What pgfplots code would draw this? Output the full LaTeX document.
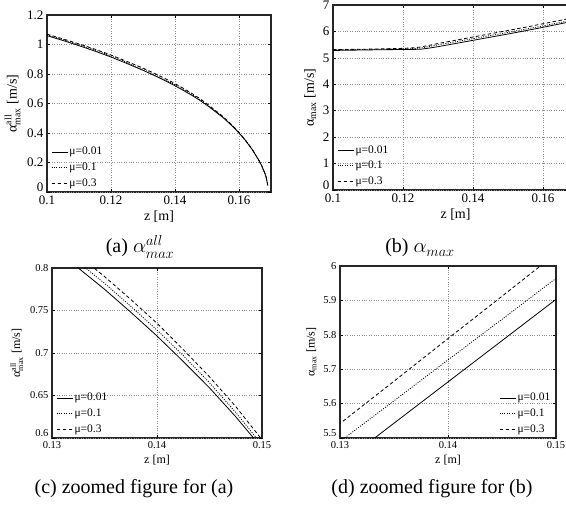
\documentclass[border=0pt]{standalone}
\usepackage{fontspec}
\setmainfont{Liberation Serif}
\usepackage{amsmath}
\usepackage{pgfplots}
\usepackage{pgfplotstable}
\pgfplotsset{compat=1.18}

% alpha_max^all against z, for mu = 0.01, 0.1, 0.3
\pgfplotstableread{
z      a      b      c
0.100  1.060  1.066  1.070
0.105  1.027  1.033  1.038
0.110  0.992  0.999  1.004
0.115  0.955  0.962  0.968
0.120  0.915  0.922  0.929
0.125  0.871  0.878  0.885
0.130  0.825  0.832  0.840
0.1325 0.800  0.807  0.815
0.135  0.775  0.782  0.790
0.1375 0.748  0.755  0.763
0.140  0.720  0.727  0.735
0.1425 0.690  0.697  0.704
0.145  0.659  0.665  0.672
0.1475 0.625  0.630  0.637
0.150  0.588  0.592  0.598
0.155  0.505  0.508  0.512
0.158  0.445  0.447  0.450
0.160  0.400  0.402  0.404
0.162  0.350  0.351  0.352
0.164  0.292  0.293  0.294
0.166  0.222  0.223  0.223
0.167  0.182  0.183  0.183
0.168  0.132  0.132  0.132
0.1685 0.100  0.100  0.100
0.169  0.045  0.045  0.045
}\tabA

% alpha_max against z
\pgfplotstableread{
z      a      b      c
0.100  5.280  5.300  5.310
0.105  5.290  5.310  5.320
0.110  5.300  5.320  5.330
0.115  5.310  5.330  5.345
0.120  5.315  5.340  5.360
0.123  5.320  5.350  5.380
0.125  5.325  5.370  5.410
0.1275 5.370  5.430  5.475
0.130  5.423  5.490  5.542
0.135  5.543  5.608  5.665
0.140  5.663  5.727  5.789
0.145  5.783  5.845  5.912
0.150  5.903  5.964  6.036
0.155  6.027  6.085  6.160
0.160  6.155  6.210  6.290
0.165  6.290  6.340  6.420
0.170  6.430  6.470  6.560
}\tabB

\pgfplotsset{
  matlab/.style={
    scale only axis,
    axis line style={line width=1.1pt, black!85},
    grid=major,
    major grid style={dotted, line width=0.5pt, black!45},
    tick align=inside,
    major tick length=3pt,
    every tick/.style={black, line width=0.5pt},
    scaled ticks=false,
    /pgf/number format/assume math mode=true,
    extra y tick style={yticklabel style={yshift=5pt, inner ysep=0pt}},
    legend cell align=left,
    legend style={draw=none, fill=none, inner sep=1pt, row sep=3.5pt,
      font=\fontsize{11.5}{12}\selectfont, nodes={inner sep=1.5pt}},
    legend image code/.code={\draw[##1] (0pt,0pt) -- (16pt,0pt);},
    every axis plot/.append style={black, line width=0.8pt, no marks},
  },
  mu1/.style={solid},
  mu2/.style={dash pattern=on 1pt off 1.4pt},
  mu3/.style={dash pattern=on 3.5pt off 2.5pt},
}

\begin{document}
\begin{tikzpicture}
\path[use as bounding box] (0pt,0pt) rectangle (566pt,506pt);

% (a)
\begin{axis}[matlab,
  at={(47pt,314pt)}, anchor=south west,
  width=224pt, height=177pt,
  xmin=0.1, xmax=0.17, ymin=0, ymax=1.2,
  xtick={0.1,0.12,0.14,0.16},
  ytick={0.2,0.4,0.6,0.8,1,1.2},
  extra y ticks={0},
  ticklabel style={font=\fontsize{13}{13}\selectfont},
  label style={font=\fontsize{14}{15}\selectfont},
  xlabel={z [m]},
  ylabel={$\text{α}^{\text{all}}_{\text{max}}$ [m/s]},
  legend style={at={(0,0)}, anchor=south west, xshift=3pt, yshift=1.5pt},
]
\addplot[mu1] table[x=z, y=a] {\tabA};
\addplot[mu2] table[x=z, y=b] {\tabA};
\addplot[mu3] table[x=z, y=c] {\tabA};
\legend{μ=0.01, μ=0.1, μ=0.3}
\end{axis}

% (b)
\begin{axis}[matlab,
  at={(333pt,316pt)}, anchor=south west,
  width=245pt, height=185pt,
  xmin=0.1, xmax=0.17, ymin=0, ymax=7,
  xtick={0.1,0.12,0.14,0.16},
  ytick={1,2,...,7},
  extra y ticks={0},
  ticklabel style={font=\fontsize{13}{13}\selectfont},
  label style={font=\fontsize{14}{15}\selectfont},
  xlabel={z [m]},
  ylabel={$\text{α}_{\text{max}}$ [m/s]},
  legend style={at={(0,0)}, anchor=south west, xshift=3pt, yshift=1.5pt},
]
\addplot[mu1] table[x=z, y=a] {\tabB};
\addplot[mu2] table[x=z, y=b] {\tabB};
\addplot[mu3] table[x=z, y=c] {\tabB};
\legend{μ=0.01, μ=0.1, μ=0.3}
\end{axis}

% (c)
\begin{axis}[matlab,
  at={(52pt,68pt)}, anchor=south west,
  width=210pt, height=170pt,
  xmin=0.13, xmax=0.15, ymin=0.6, ymax=0.8,
  xtick={0.13,0.14,0.15},
  ytick={0.65,0.7,0.75,0.8},
  extra y ticks={0.6},
  ticklabel style={font=\fontsize{10.5}{10.5}\selectfont},
  label style={font=\fontsize{12}{13}\selectfont},
  xlabel={z [m]},
  ylabel={$\text{α}^{\text{all}}_{\text{max}}$ [m/s]},
  legend style={at={(0,0)}, anchor=south west, xshift=3pt, yshift=1.5pt},
]
\addplot[mu1] table[x=z, y=a] {\tabA};
\addplot[mu2] table[x=z, y=b] {\tabA};
\addplot[mu3] table[x=z, y=c] {\tabA};
\legend{μ=0.01, μ=0.1, μ=0.3}
\end{axis}

% (d)
\begin{axis}[matlab,
  at={(340pt,68pt)}, anchor=south west,
  width=216pt, height=172pt,
  xmin=0.13, xmax=0.15, ymin=5.5, ymax=6,
  xtick={0.13,0.14,0.15},
  ytick={5.6,5.7,5.8,5.9,6},
  extra y ticks={5.5},
  ticklabel style={font=\fontsize{10.5}{10.5}\selectfont},
  label style={font=\fontsize{12}{13}\selectfont},
  xlabel={z [m]},
  ylabel={$\text{α}_{\text{max}}$ [m/s]},
  legend style={at={(1,0)}, anchor=south east, xshift=-3pt, yshift=1.5pt},
]
\addplot[mu1] table[x=z, y=a] {\tabB};
\addplot[mu2] table[x=z, y=b] {\tabB};
\addplot[mu3] table[x=z, y=c] {\tabB};
\legend{μ=0.01, μ=0.1, μ=0.3}
\end{axis}

\begin{scope}[every node/.style={anchor=base, font=\fontsize{20}{24}\selectfont}]
\node at (140pt,253pt) {(a) $\alpha^{all}_{max}$};
\node at (420pt,253pt) {(b) $\alpha_{max}$};
\node at (134pt,12pt) {(c) zoomed figure for (a)};
\node at (432pt,12pt) {(d) zoomed figure for (b)};
\end{scope}
\end{tikzpicture}
\end{document}
